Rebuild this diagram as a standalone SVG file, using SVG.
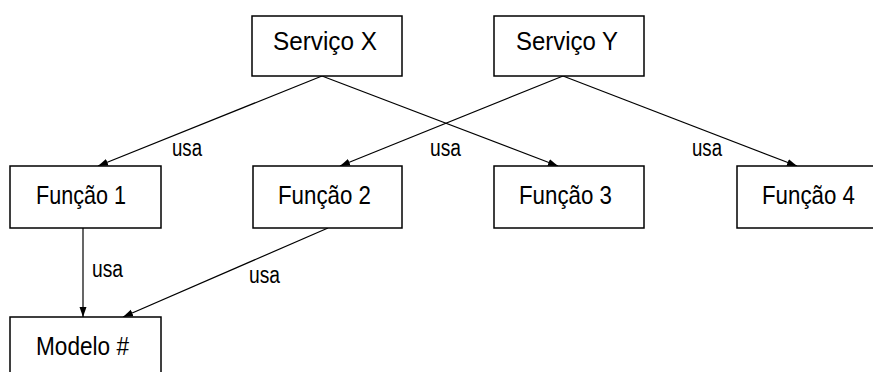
<svg xmlns="http://www.w3.org/2000/svg" width="873" height="372" viewBox="0 0 873 372">
<style>
.box{fill:#fff;stroke:#000;stroke-width:1.5}
.t{font-family:"Liberation Sans",Arial,sans-serif;font-size:25px;fill:#000}
.c{stroke:#000;stroke-width:1.2;fill:none;marker-end:url(#ah)}
.l{font-family:"Liberation Sans",Arial,sans-serif;font-size:23px;fill:#000}
</style>
<defs>
<marker id="ah" markerUnits="userSpaceOnUse" markerWidth="10" markerHeight="10" viewBox="0 0 10 10" refX="10" refY="5" orient="auto">
<path d="M0,1.5 L10,5 L0,8.5 Z" fill="#000"/>
</marker>
</defs>
<rect width="873" height="372" fill="#fff"/>
<g id="connectors">
<line class="c" x1="322" y1="76" x2="98" y2="166"/>
<line class="c" x1="322" y1="76" x2="558" y2="166"/>
<line class="c" x1="563" y1="76" x2="340" y2="166"/>
<line class="c" x1="563" y1="76" x2="797" y2="166"/>
<line class="c" x1="83" y1="228" x2="83" y2="317"/>
<line class="c" x1="328" y1="228" x2="123" y2="317"/>
<text class="l" x="172" y="156" textLength="30" lengthAdjust="spacingAndGlyphs">usa</text>
<text class="l" x="430" y="156" textLength="31" lengthAdjust="spacingAndGlyphs">usa</text>
<text class="l" x="692" y="156" textLength="30" lengthAdjust="spacingAndGlyphs">usa</text>
<text class="l" x="92" y="277" textLength="31" lengthAdjust="spacingAndGlyphs">usa</text>
<text class="l" x="249" y="283" textLength="31" lengthAdjust="spacingAndGlyphs">usa</text>
</g>
<g id="servico-x">
<rect class="box" x="252" y="16" width="150" height="60"/>
<text class="t" x="273" y="50" textLength="104" lengthAdjust="spacingAndGlyphs">Serviço  X</text>
</g>
<g id="servico-y">
<rect class="box" x="494" y="16" width="150" height="60"/>
<text class="t" x="516" y="50" textLength="102" lengthAdjust="spacingAndGlyphs">Serviço  Y</text>
</g>
<g id="funcao-1">
<rect class="box" x="10" y="166" width="151" height="62"/>
<text class="t" x="36" y="204" textLength="90" lengthAdjust="spacingAndGlyphs">Função 1</text>
</g>
<g id="funcao-2">
<rect class="box" x="253" y="166" width="149" height="62"/>
<text class="t" x="278" y="204" textLength="93" lengthAdjust="spacingAndGlyphs">Função 2</text>
</g>
<g id="funcao-3">
<rect class="box" x="494" y="166" width="150" height="62"/>
<text class="t" x="519" y="204" textLength="93" lengthAdjust="spacingAndGlyphs">Função 3</text>
</g>
<g id="funcao-4">
<rect class="box" x="737" y="166" width="150" height="62"/>
<text class="t" x="762" y="204" textLength="93" lengthAdjust="spacingAndGlyphs">Função 4</text>
</g>
<g id="modelo">
<rect class="box" x="10" y="317" width="151" height="62"/>
<text class="t" x="36" y="355" textLength="93" lengthAdjust="spacingAndGlyphs">Modelo #</text>
</g>
</svg>
